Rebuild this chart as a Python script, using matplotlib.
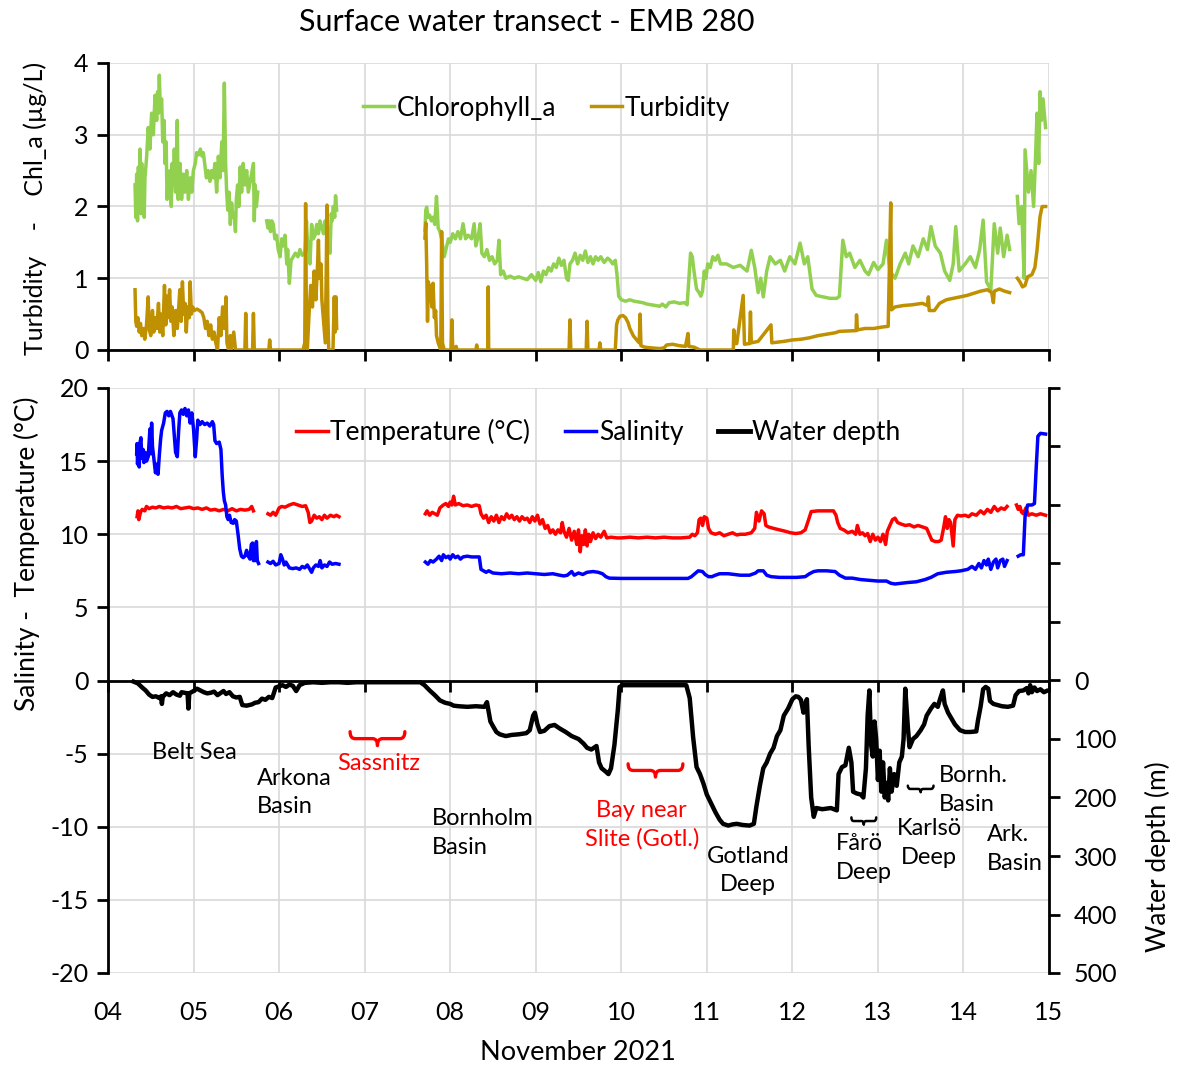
import numpy as np
import matplotlib
matplotlib.use("Agg")
import matplotlib.pyplot as plt
from matplotlib.path import Path
from matplotlib.patches import PathPatch
from matplotlib.lines import Line2D

plt.rcParams['font.family'] = ['Lato', 'DejaVu Sans']
plt.rcParams['axes.unicode_minus'] = False

nan = np.nan

# ---------------- data (day of November 2021) ----------------
days = list(range(4, 16))
day_labels = ["%02d" % d for d in days]

chl_day = [4.316, 4.325, 4.335, 4.345, 4.355, 4.365, 4.374, 4.384, 4.394, 4.404, 4.413, 4.423, 4.432,
           4.452, 4.47, 4.49, 4.51, 4.53, 4.55, 4.569, 4.58, 4.59, 4.60, 4.61, 4.627, 4.64, 4.655, 4.666,
           4.68, 4.69, 4.705, 4.715, 4.725, 4.74, 4.75, 4.764, 4.775, 4.79, 4.81, 4.82, 4.842, 4.86, 4.88,
           4.90, 4.92, 4.94, 4.96, 4.98, 4.998, 5.02, 5.036, 5.06, 5.08, 5.10, 5.114, 5.13, 5.15, 5.17,
           5.192, 5.21, 5.23, 5.25, 5.27, 5.29, 5.309, 5.33, 5.345, 5.36, 5.375, 5.387, 5.40, 5.415, 5.43,
           5.445, 5.46, 5.475, 5.49, 5.50, 5.515, 5.53, 5.545, 5.562, 5.58, 5.60, 5.621, 5.64, 5.70, 5.71,
           5.72, 5.735, 5.75, 5.80,
           5.855, 5.87, 5.885, 5.90, 5.915, 5.933, 5.95, 5.97, 5.99, 6.011, 6.03, 6.05, 6.069, 6.09, 6.10,
           6.12, 6.14, 6.166, 6.19, 6.22, 6.244, 6.27, 6.303, 6.32, 6.335, 6.35, 6.361, 6.38, 6.40, 6.42,
           6.44, 6.46, 6.478, 6.50, 6.52, 6.537, 6.56, 6.58, 6.595, 6.61, 6.62, 6.634, 6.65, 6.66, 6.673,
           7.2,
           7.705, 7.715, 7.725, 7.74, 7.76, 7.78, 7.80, 7.82, 7.84, 7.86, 7.88, 7.90, 7.93, 7.96, 7.98,
           8.00, 8.03, 8.06, 8.09, 8.12, 8.15, 8.18, 8.21, 8.25, 8.28, 8.30, 8.33, 8.35, 8.37, 8.40, 8.43,
           8.46, 8.49, 8.52, 8.55, 8.57, 8.59, 8.62, 8.65, 8.70, 8.75, 8.80, 8.85, 8.90, 8.95, 9.00, 9.03,
           9.06, 9.09, 9.12, 9.15, 9.18, 9.21, 9.24, 9.27, 9.30, 9.33, 9.36, 9.38, 9.40, 9.43, 9.46, 9.49,
           9.52, 9.55, 9.58, 9.61, 9.64, 9.67, 9.70, 9.73, 9.76, 9.80, 9.84, 9.87, 9.90, 9.93, 9.95, 9.97,
           10.00, 10.05, 10.10, 10.15, 10.20, 10.25, 10.30, 10.35, 10.40, 10.45, 10.48, 10.52, 10.56,
           10.62, 10.68, 10.74, 10.77, 10.79, 10.81, 10.83, 10.85, 10.88, 10.91, 10.93, 10.95, 10.97,
           10.99, 11.01, 11.04, 11.07, 11.10, 11.13, 11.16, 11.23, 11.31, 11.39, 11.47, 11.52, 11.56,
           11.60, 11.63, 11.66, 11.70, 11.74, 11.80, 11.86, 11.91, 11.97, 12.03, 12.09, 12.14, 12.18,
           12.23, 12.28, 12.36, 12.44, 12.52, 12.55, 12.59, 12.63, 12.67, 12.73, 12.79, 12.85, 12.89,
           12.95, 13.00, 13.06, 13.10, 13.14, 13.20, 13.26, 13.32, 13.36, 13.41, 13.47, 13.53, 13.58,
           13.62, 13.67, 13.73, 13.78, 13.84, 13.88, 13.91, 13.95, 14.02, 14.08, 14.14, 14.19, 14.23,
           14.27, 14.32, 14.36, 14.40, 14.43, 14.47, 14.51, 14.54, 14.58,
           14.63, 14.65, 14.68, 14.71, 14.72, 14.76, 14.79, 14.82, 14.84, 14.86, 14.88, 14.895, 14.91,
           14.93, 14.96]
chl_val = [2.3, 1.85, 2.45, 1.8, 2.55, 2.0, 2.8, 1.9, 2.6, 2.0, 2.2, 1.85, 2.4,
           2.7, 3.1, 2.8, 3.3, 3.0, 3.55, 3.2, 3.6, 3.3, 3.83, 3.4, 3.5, 2.9, 3.2, 2.6,
           2.9, 2.1, 2.4, 2.2, 2.5, 2.0, 2.6, 2.3, 2.8, 2.2, 3.2, 2.1, 2.6, 2.1, 2.45,
           2.2, 2.5, 2.1, 2.4, 2.2, 2.5, 2.6, 2.75, 2.72, 2.8, 2.7, 2.75, 2.6, 2.4, 2.5,
           2.35, 2.5, 2.4, 2.6, 2.2, 2.7, 2.4, 2.9, 2.5, 3.72, 2.6, 2.2, 1.95, 2.2, 1.75,
           2.05, 1.85, 1.9, 1.65, 2.1, 2.3, 2.0, 2.55, 2.2, 2.6, 2.3, 2.5, 2.2, 2.6, 1.8,
           2.3, 2.0, 2.2, nan,
           1.8, 1.7, 1.8, 1.65, 1.8, 1.75, 1.55, 1.6, 1.4, 1.3, 1.55, 1.45, 1.6, 1.2, 1.4,
           0.93, 1.25, 1.3, 1.35, 1.3, 1.4, 1.32, 1.35, 1.8, 1.4, 1.5, 1.2, 1.75, 1.55, 1.6,
           1.75, 1.62, 1.8, 1.7, 1.62, 1.8, 1.65, 1.7, 1.35, 1.9, 1.8, 2.0, 1.85, 2.15, 1.95,
           nan,
           1.67, 1.95, 1.99, 1.85, 1.88, 1.8, 1.85, 1.75, 2.14, 1.7, 1.65, 1.55, 1.3, 1.45, 1.55,
           1.5, 1.62, 1.55, 1.65, 1.55, 1.76, 1.55, 1.6, 1.55, 1.76, 1.45, 1.6, 1.76, 1.35, 1.3, 1.4,
           1.25, 1.3, 1.2, 1.25, 1.53, 1.05, 1.1, 1.0, 1.03, 1.0, 1.02, 1.0, 0.98, 1.05, 0.97, 1.08,
           0.95, 1.1, 1.05, 1.15, 1.1, 1.2, 1.15, 1.28, 1.18, 1.25, 1.0, 0.97, 1.2, 1.25, 1.35, 1.2,
           1.32, 1.25, 1.38, 1.22, 1.3, 1.2, 1.3, 1.25, 1.3, 1.22, 1.28, 1.25, 1.2, 1.25, 1.05, 0.75,
           0.70, 0.68, 0.70, 0.68, 0.67, 0.66, 0.64, 0.63, 0.62, 0.61, 0.64, 0.60, 0.66,
           0.67, 0.65, 0.66, 0.63, 1.0, 1.35, 1.3, 1.1, 0.85, 0.8, 0.75, 0.82, 1.1,
           1.0, 1.2, 1.15, 1.3, 1.25, 1.32, 1.2, 1.2, 1.15, 1.18, 1.1, 1.39, 1.15,
           0.8, 1.0, 0.74, 1.1, 1.3, 1.2, 1.25, 1.1, 1.3, 1.2, 1.49, 1.2, 1.3,
           0.85, 0.76, 0.74, 0.72, 0.72, 0.75, 1.53, 1.3, 1.35, 1.15, 1.25, 1.1, 1.05,
           1.22, 1.12, 1.2, 1.53, 1.1, 1.0, 1.2, 1.35, 1.2, 1.45, 1.3, 1.55, 1.4,
           1.72, 1.45, 1.35, 1.1, 0.97, 1.2, 1.72, 1.1, 1.2, 1.3, 1.15, 1.4, 1.81,
           0.95, 0.84, 1.76, 1.35, 1.7, 1.3, 1.6, 1.4, nan,
           2.14, 1.76, 2.0, 1.0, 2.79, 2.2, 2.5, 2.0, 2.6, 3.3, 2.6, 3.6, 3.2,
           3.5, 3.1]

turb_day = [4.316, 4.325, 4.335, 4.35, 4.365, 4.38, 4.394, 4.41, 4.43, 4.45, 4.47, 4.48, 4.50, 4.52,
            4.535, 4.55, 4.57, 4.59, 4.605, 4.62, 4.64, 4.66, 4.675, 4.69, 4.70, 4.72, 4.735, 4.75, 4.77,
            4.79, 4.81, 4.84, 4.855, 4.87, 4.885, 4.90, 4.915, 4.93, 4.95, 4.96, 4.975, 4.99, 5.01, 5.04,
            5.07, 5.10, 5.12, 5.14, 5.16, 5.18, 5.20, 5.22, 5.24, 5.26, 5.28, 5.30, 5.32, 5.34, 5.36,
            5.38, 5.39, 5.41, 5.43, 5.44, 5.47, 5.49, 5.60, 5.61, 5.62, 5.69, 5.70, 5.71, 5.88, 5.89,
            5.90, 6.28, 6.30, 6.31, 6.32, 6.33, 6.35, 6.37, 6.39, 6.41, 6.43, 6.45, 6.46, 6.47, 6.49,
            6.50, 6.52, 6.54, 6.55, 6.56, 6.57, 6.58, 6.63, 6.645, 6.655, 6.665, 6.673, 7.2,
            7.705, 7.715, 7.725, 7.735, 7.745, 7.755, 7.77, 7.785, 7.80, 7.815, 7.83, 7.84, 7.86, 7.875,
            7.89, 7.90, 7.91, 7.93, 8.01, 8.02, 8.03, 8.07, 8.08, 8.30, 8.31, 8.32, 8.44, 8.445, 8.45,
            9.39, 9.40, 9.41, 9.59, 9.60, 9.61, 9.74, 9.75, 9.76, 9.93, 9.945, 9.96, 9.985, 10.02, 10.05,
            10.08, 10.10, 10.14, 10.18, 10.21, 10.22, 10.23, 10.27, 10.35, 10.45, 10.50, 10.53, 10.60,
            10.68, 10.75, 10.78, 10.79, 10.85, 10.92, 11.31, 11.315, 11.33, 11.35, 11.425, 11.44, 11.50,
            11.51, 11.52, 11.60, 11.75, 11.76, 11.90, 12.00, 12.10, 12.20, 12.30, 12.40, 12.50, 12.55,
            12.745, 12.75, 12.76, 12.85, 12.95, 13.05, 13.12, 13.15, 13.16, 13.20, 13.30, 13.40, 13.52,
            13.58, 13.59, 13.60, 13.66, 13.72, 13.80, 13.88, 13.96, 14.04, 14.12, 14.20, 14.28, 14.33,
            14.35, 14.36, 14.42, 14.48, 14.54, 14.58,
            14.63, 14.66, 14.69, 14.72, 14.75, 14.80, 14.835, 14.86, 14.895, 14.92, 14.96]
turb_val = [0.84, 0.40, 0.33, 0.45, 0.25, 0.37, 0.2, 0.30, 0.15, 0.35, 0.74, 0.3, 0.2, 0.55,
            0.25, 0.45, 0.3, 0.65, 0.25, 0.5, 0.2, 0.9, 0.35, 0.75, 0.45, 0.84, 0.4, 0.6, 0.2,
            0.55, 0.3, 0.84, 0.4, 0.95, 0.5, 0.65, 0.25, 0.6, 0.45, 0.95, 0.5, 0.6, 0.55, 0.57,
            0.55, 0.52, 0.45, 0.3, 0.4, 0.2, 0.35, 0.15, 0.25, 0.1, 0.0, 0.45, 0.2, 0.6, 0.3,
            0.74, 0.1, 0.0, 0.2, 0.0, 0.25, 0.0, 0.0, 0.51, 0.0, 0.0, 0.51, 0.0, 0.0, 0.14,
            0.0, 0.0, 0.1, 2.04, 0.3, 0.0, 0.5, 0.9, 0.6, 1.1, 0.7, 1.2, 1.53, 1.0, 1.2,
            0.7, 0.4, 0.1, 1.0, 2.02, 0.5, 0.0, 0.0, 0.74, 0.25, 0.74, 0.3, nan,
            1.56, 1.77, 1.2, 0.4, 0.95, 0.7, 0.9, 0.6, 0.93, 0.45, 0.55, 0.2, 0.1, 0.05,
            0.0, 1.65, 0.1, 0.0, 0.0, 0.42, 0.0, 0.05, 0.0, 0.0, 0.07, 0.0, 0.0, 0.88, 0.0,
            0.0, 0.42, 0.0, 0.0, 0.40, 0.0, 0.0, 0.1, 0.0, 0.0, 0.35, 0.42, 0.47, 0.48, 0.45,
            0.38, 0.3, 0.2, 0.14, 0.1, 0.5, 0.06, 0.04, 0.03, 0.02, 0.03, 0.07, 0.08,
            0.06, 0.05, 0.23, 0.05, 0.04, 0.0, 0.0, 0.28, 0.09, 0.09, 0.76, 0.08, 0.09,
            0.53, 0.1, 0.12, 0.35, 0.1, 0.12, 0.14, 0.15, 0.17, 0.2, 0.22, 0.24, 0.26,
            0.27, 0.49, 0.28, 0.3, 0.3, 0.32, 0.33, 2.05, 0.56, 0.6, 0.62, 0.63, 0.65,
            0.62, 0.74, 0.55, 0.55, 0.65, 0.7, 0.72, 0.74, 0.76, 0.79, 0.82, 0.84, 0.8,
            0.66, 0.82, 0.85, 0.82, 0.8, nan,
            1.0, 0.95, 0.88, 0.9, 1.02, 1.05, 1.15, 1.39, 1.86, 2.0, 2.0]

temp_day = [4.34, 4.35, 4.36, 4.38, 4.40, 4.43, 4.45, 4.48, 4.52, 4.56, 4.60, 4.65, 4.70, 4.75, 4.80,
            4.85, 4.90, 4.95, 5.00, 5.05, 5.10, 5.15, 5.20, 5.25, 5.30, 5.35, 5.40, 5.45, 5.50, 5.55,
            5.60, 5.65, 5.68, 5.70, 5.78,
            5.87, 5.90, 5.93, 5.96, 6.00, 6.03, 6.07, 6.12, 6.17, 6.22, 6.27, 6.31, 6.34, 6.36, 6.38,
            6.41, 6.44, 6.47, 6.50, 6.53, 6.56, 6.60, 6.64, 6.67, 6.70, 7.2,
            7.71, 7.73, 7.76, 7.79, 7.82, 7.85, 7.88, 7.92, 7.95, 7.98, 8.00, 8.02, 8.04, 8.06, 8.10,
            8.15, 8.20, 8.25, 8.30, 8.34, 8.36, 8.39, 8.42, 8.45, 8.48, 8.51, 8.54, 8.57, 8.60, 8.63,
            8.66, 8.69, 8.72, 8.75, 8.78, 8.81, 8.84, 8.87, 8.90, 8.93, 8.96, 8.99, 9.02, 9.05, 9.08,
            9.11, 9.14, 9.17, 9.20, 9.23, 9.26, 9.29, 9.31, 9.33, 9.36, 9.39, 9.42, 9.45, 9.48, 9.50,
            9.52, 9.54, 9.56, 9.58, 9.60, 9.62, 9.64, 9.67, 9.70, 9.73, 9.76, 9.80, 9.83, 9.88, 9.95,
            10.0, 10.1, 10.2, 10.3, 10.4, 10.5, 10.6, 10.7, 10.80, 10.83, 10.86, 10.89, 10.91, 10.93,
            10.95, 10.97, 11.00, 11.02, 11.05, 11.10, 11.15, 11.20, 11.25, 11.30, 11.35, 11.39, 11.45,
            11.52, 11.56, 11.58, 11.61, 11.64, 11.67, 11.69, 11.72, 11.78, 11.85, 11.92, 11.98, 12.04,
            12.10, 12.15, 12.19, 12.22, 12.30, 12.40, 12.48, 12.51, 12.53, 12.56, 12.60, 12.65, 12.70,
            12.74, 12.76, 12.79, 12.82, 12.85, 12.88, 12.91, 12.94, 12.97, 13.00, 13.03, 13.06, 13.09,
            13.11, 13.14, 13.17, 13.20, 13.23, 13.27, 13.32, 13.37, 13.42, 13.47, 13.52, 13.57, 13.60,
            13.63, 13.67, 13.71, 13.74, 13.77, 13.79, 13.81, 13.83, 13.85, 13.88, 13.90, 13.93, 13.97,
            14.02, 14.06, 14.10, 14.15, 14.20, 14.24, 14.28, 14.32, 14.36, 14.40, 14.44, 14.48, 14.51,
            14.56, 14.62, 14.64, 14.66, 14.68, 14.70, 14.73, 14.76, 14.80, 14.85, 14.90, 14.96]
temp_val = [11.2, 11.6, 11.0, 11.5, 11.7, 11.6, 11.9, 11.75, 11.85, 11.8, 11.9, 11.8, 11.85, 11.8, 11.9,
            11.75, 11.8, 11.85, 11.75, 11.8, 11.7, 11.8, 11.65, 11.7, 11.6, 11.7, 11.6, 11.75, 11.6, 11.7,
            11.65, 11.7, 11.9, 11.6, nan,
            11.4, 11.3, 11.5, 11.3, 11.8, 11.9, 11.85, 12.0, 12.1, 12.0, 11.9, 11.95, 11.5, 10.8, 10.9,
            11.3, 11.1, 11.2, 11.0, 11.3, 11.1, 11.3, 11.2, 11.3, 11.2, nan,
            11.4, 11.6, 11.3, 11.5, 11.4, 11.3, 11.8, 12.0, 12.1, 11.9, 12.2, 12.0, 12.6, 12.0, 12.1,
            11.95, 12.0, 11.9, 12.0, 11.95, 11.4, 11.1, 11.3, 10.8, 11.2, 10.9, 11.3, 10.8, 11.2, 11.0,
            11.4, 11.1, 11.3, 11.0, 11.2, 10.9, 11.2, 11.0, 11.1, 10.8, 11.2, 10.9, 11.3, 10.7, 11.0,
            10.4, 10.6, 10.1, 10.3, 10.0, 10.3, 10.1, 10.8, 10.2, 9.8, 10.4, 9.6, 10.2, 9.3, 10.3,
            8.8, 9.9, 9.3, 10.3, 9.2, 10.0, 9.5, 10.1, 9.7, 10.0, 9.8, 10.2, 9.75, 9.8, 9.75,
            9.75, 9.8, 9.75, 9.8, 9.75, 9.8, 9.75, 9.75, 9.8, 10.0, 9.9, 10.1, 11.0, 11.1,
            10.6, 11.2, 11.1, 10.4, 10.1, 10.0, 10.1, 9.9, 10.0, 10.1, 9.95, 10.0, 10.0,
            10.1, 10.4, 11.5, 10.9, 11.6, 11.4, 10.6, 10.5, 10.4, 10.3, 10.2, 10.1, 10.05,
            10.1, 10.3, 11.0, 11.55, 11.6, 11.6, 11.6, 11.3, 10.8, 10.4, 10.3, 10.1, 10.2,
            10.0, 10.6, 10.0, 10.1, 9.9, 10.05, 9.5, 10.0, 9.6, 9.8, 9.5, 10.0, 9.3,
            10.2, 10.6, 11.0, 11.1, 10.8, 10.7, 10.6, 10.65, 10.5, 10.6, 10.5, 10.4, 10.0,
            9.6, 9.5, 9.5, 9.6, 10.5, 11.2, 10.4, 11.0, 10.8, 9.2, 11.0, 11.3, 11.25,
            11.3, 11.2, 11.4, 11.3, 11.6, 11.4, 11.7, 11.5, 11.9, 11.6, 11.8, 11.7, 11.9,
            nan, 12.0, 11.7, 11.9, 11.5, 11.4, 11.8, 11.3, 11.4, 11.3, 11.4, 11.3]

sal_day = [4.335, 4.34, 4.345, 4.355, 4.365, 4.375, 4.385, 4.395, 4.41, 4.42, 4.435, 4.45, 4.47, 4.49,
           4.50, 4.51, 4.52, 4.54, 4.555, 4.57, 4.585, 4.60, 4.615, 4.627, 4.65, 4.67, 4.69, 4.71, 4.73,
           4.76, 4.79, 4.81, 4.825, 4.84, 4.86, 4.88, 4.90, 4.92, 4.94, 4.96, 4.98, 5.00, 5.02, 5.036,
           5.05, 5.075, 5.10, 5.13, 5.16, 5.19, 5.22, 5.235, 5.25, 5.27, 5.30, 5.32, 5.335, 5.348, 5.36,
           5.375, 5.39, 5.405, 5.42, 5.44, 5.465, 5.48, 5.50, 5.52, 5.54, 5.56, 5.58, 5.60, 5.62, 5.64,
           5.66, 5.675, 5.69, 5.70, 5.72, 5.735, 5.745, 5.76, 5.80,
           5.87, 5.90, 5.93, 5.96, 6.00, 6.02, 6.04, 6.06, 6.08, 6.12, 6.16, 6.20, 6.24, 6.27, 6.30,
           6.33, 6.36, 6.38, 6.40, 6.43, 6.46, 6.48, 6.50, 6.53, 6.56, 6.59, 6.62, 6.66, 6.70, 7.2,
           7.71, 7.74, 7.77, 7.80, 7.84, 7.87, 7.90, 7.92, 7.95, 7.98, 8.00, 8.03, 8.06, 8.09, 8.12,
           8.15, 8.20, 8.25, 8.34, 8.36, 8.39, 8.42, 8.45, 8.50, 8.60, 8.70, 8.80, 8.90, 9.00, 9.10,
           9.20, 9.28, 9.33, 9.37, 9.42, 9.45, 9.50, 9.55, 9.60, 9.67, 9.73, 9.78, 9.82, 9.86, 10.0,
           10.2, 10.4, 10.6, 10.78, 10.82, 10.86, 10.90, 10.95, 10.98, 11.02, 11.06, 11.10, 11.15,
           11.25, 11.39, 11.50, 11.57, 11.60, 11.66, 11.70, 11.75, 11.85, 11.95, 12.05, 12.15, 12.20,
           12.25, 12.30, 12.40, 12.50, 12.55, 12.62, 12.70, 12.80, 12.90, 13.00, 13.10, 13.15, 13.20,
           13.27, 13.35, 13.45, 13.55, 13.62, 13.70, 13.80, 13.90, 13.97, 14.05, 14.10, 14.14, 14.18,
           14.21, 14.24, 14.27, 14.29, 14.32, 14.35, 14.38, 14.40, 14.43, 14.46, 14.48, 14.51, 14.56,
           14.64, 14.67, 14.70, 14.72, 14.75, 14.80, 14.83, 14.85, 14.87, 14.90, 14.96]
sal_val = [15.5, 16.2, 14.8, 15.7, 14.6, 16.3, 16.6, 15.2, 15.8, 14.9, 15.6, 15.0, 15.3, 17.2,
           15.5, 17.6, 16.0, 15.0, 14.2, 14.8, 14.1, 15.4, 16.5, 17.1, 17.6, 18.3, 18.4, 18.1, 18.4,
           17.9, 15.6, 15.3, 17.0, 18.3, 18.5, 18.2, 18.6, 18.1, 18.5, 17.6, 18.3, 17.2, 15.3, 16.5,
           17.8, 17.5, 17.7, 17.5, 17.6, 17.4, 17.7, 17.5, 16.4, 16.2, 16.3, 15.8, 14.0, 12.9, 12.3,
           12.0, 11.2, 11.0, 11.3, 10.8, 10.75, 11.0, 10.9, 10.0, 9.0, 8.5, 8.4, 8.5, 8.9, 8.5,
           8.3, 9.3, 9.4, 8.2, 8.2, 9.5, 8.2, 8.0, nan,
           8.1, 8.0, 8.15, 7.9, 8.0, 8.6, 8.3, 7.9, 8.1, 7.7, 7.65, 7.7, 7.6, 7.8, 7.7,
           7.9, 7.6, 7.4, 7.7, 7.9, 7.8, 8.2, 7.7, 7.9, 7.8, 8.1, 7.95, 8.0, 7.95, nan,
           8.1, 7.95, 8.2, 8.1, 8.3, 8.5, 8.2, 8.6, 8.4, 8.5, 8.3, 8.6, 8.4, 8.5, 8.3,
           8.45, 8.5, 8.45, 8.45, 7.6, 7.5, 7.4, 7.5, 7.35, 7.3, 7.35, 7.3, 7.35, 7.3, 7.25,
           7.3, 7.2, 7.15, 7.2, 7.45, 7.2, 7.35, 7.25, 7.4, 7.45, 7.4, 7.3, 7.1, 7.0, 6.98,
           6.98, 6.98, 6.98, 6.98, 7.1, 7.3, 7.5, 7.45, 7.25, 7.1, 7.1, 7.2, 7.3,
           7.3, 7.2, 7.2, 7.35, 7.5, 7.5, 7.2, 7.1, 7.05, 7.05, 7.05, 7.1, 7.3,
           7.45, 7.5, 7.5, 7.45, 7.2, 7.0, 7.0, 6.9, 6.85, 6.8, 6.8, 6.65, 6.6,
           6.65, 6.7, 6.75, 6.9, 7.05, 7.3, 7.4, 7.45, 7.5, 7.6, 7.8, 7.6, 8.0,
           7.7, 8.2, 7.9, 8.3, 7.6, 8.1, 8.3, 7.7, 8.2, 8.3, 7.8, 8.2, nan,
           8.5, 8.6, 8.6, 11.2, 12.0, 12.0, 12.1, 14.5, 16.7, 16.9, 16.85]

depth_day = [4.30, 4.35, 4.40, 4.44, 4.48, 4.52, 4.56, 4.60, 4.62, 4.63, 4.64, 4.68, 4.72, 4.76, 4.80,
             4.84, 4.86, 4.93, 4.94, 4.95, 5.00, 5.04, 5.08, 5.12, 5.16, 5.20, 5.24, 5.28, 5.31, 5.35,
             5.38, 5.42, 5.46, 5.50, 5.54, 5.57, 5.62, 5.68, 5.72, 5.76, 5.80, 5.84, 5.88, 5.92, 5.96,
             6.00, 6.04, 6.08, 6.12, 6.16, 6.20, 6.24, 6.30, 6.40, 6.50, 6.60, 6.70, 6.80, 6.90, 7.00,
             7.10, 7.20, 7.30, 7.50, 7.65, 7.70, 7.76, 7.82, 7.88, 7.94, 8.00, 8.04, 8.10, 8.20, 8.30,
             8.40, 8.43, 8.47, 8.50, 8.54, 8.58, 8.65, 8.72, 8.80, 8.89, 8.93, 8.97, 8.99, 9.02, 9.05,
             9.10, 9.16, 9.22, 9.28, 9.35, 9.42, 9.50, 9.56, 9.60, 9.65, 9.71, 9.74, 9.77, 9.82, 9.85,
             9.88, 9.92, 9.96, 9.98, 10.02, 10.2, 10.4, 10.6, 10.76, 10.80, 10.84, 10.88, 10.92, 10.96,
             11.00, 11.05, 11.10, 11.15, 11.19, 11.25, 11.30, 11.35, 11.42, 11.50, 11.55, 11.58, 11.62,
             11.66, 11.70, 11.74, 11.78, 11.82, 11.86, 11.90, 11.95, 12.00, 12.04, 12.07, 12.10, 12.13,
             12.15, 12.17, 12.19, 12.22, 12.25, 12.28, 12.35, 12.45, 12.52, 12.54, 12.58, 12.62, 12.66,
             12.69, 12.71, 12.75, 12.80, 12.83, 12.86, 12.88, 12.90, 12.92, 12.94, 12.96, 12.98, 13.00,
             13.02, 13.04, 13.06, 13.08, 13.10, 13.12, 13.14, 13.16, 13.19, 13.22, 13.25, 13.28, 13.30,
             13.32, 13.35, 13.37, 13.41, 13.45, 13.50, 13.54, 13.57, 13.62, 13.66, 13.70, 13.73, 13.76,
             13.78, 13.82, 13.86, 13.90, 13.96, 14.02, 14.08, 14.15, 14.17, 14.20, 14.23, 14.26, 14.29,
             14.31, 14.35, 14.40, 14.45, 14.52, 14.58, 14.61, 14.65, 14.70, 14.74, 14.76, 14.78, 14.80,
             14.83, 14.86, 14.90, 14.94, 14.97]
depth_m = [2, 5, 12, 17, 24, 28, 27, 30, 27, 40, 28, 22, 25, 20, 24,
           26, 20, 22, 48, 22, 18, 14, 17, 20, 22, 21, 19, 25, 22, 18,
           23, 20, 27, 29, 28, 42, 43, 41, 38, 37, 31, 33, 28, 30, 12,
           10, 8, 11, 7, 9, 18, 8, 4, 3, 4, 3, 3, 4, 3, 3,
           3, 3, 3, 3, 3, 8, 17, 25, 34, 38, 40, 43, 44, 45, 44,
           45, 37, 70, 78, 88, 92, 95, 93, 92, 90, 85, 60, 55, 75, 88,
           86, 78, 76, 82, 88, 95, 100, 108, 115, 118, 112, 140, 150, 156, 160,
           150, 110, 50, 11, 8, 8, 8, 8, 8, 30, 97, 148, 160, 176,
           195, 210, 225, 238, 245, 248, 246, 245, 247, 248, 245, 215, 180,
           150, 140, 125, 115, 95, 85, 60, 48, 32, 27, 28, 33, 55,
           40, 32, 110, 200, 233, 218, 220, 218, 222, 160, 148, 145, 115,
           140, 190, 193, 195, 200, 150, 60, 17, 110, 130, 70, 100, 170,
           120, 190, 140, 200, 175, 205, 150, 190, 160, 180, 140, 130, 100,
           14, 80, 114, 100, 95, 85, 75, 60, 48, 40, 45, 30, 17,
           40, 55, 65, 75, 85, 88, 88, 87, 68, 45, 15, 11, 14,
           35, 40, 42, 44, 45, 43, 25, 18, 17, 13, 22, 8, 20,
           12, 18, 15, 20, 18]

# ---------------- colours ----------------
c_chl = "#92D050"
c_turb = "#BF9000"
c_temp = "#FF0000"
c_sal = "#0000FF"
grid_c = "#D9D9D9"


def brace(ax, x0, x1, y, h, color, lw):
    # horizontal curly brace, tip pointing down
    xm = (x0 + x1) / 2
    a = (x1 - x0) * 0.09
    ym = y - h / 2
    verts = [(x0, y), (x0, ym), (x0 + a, ym), (xm - a, ym), (xm, ym), (xm, y - h),
             (xm, ym), (xm + a, ym), (x1 - a, ym), (x1, ym), (x1, y)]
    codes = [Path.MOVETO, Path.CURVE3, Path.CURVE3, Path.LINETO, Path.CURVE3, Path.CURVE3,
             Path.CURVE3, Path.CURVE3, Path.LINETO, Path.CURVE3, Path.CURVE3]
    ax.add_patch(PathPatch(Path(verts, codes), fill=False, edgecolor=color, lw=lw,
                           capstyle='round', joinstyle='round', zorder=5))


fig = plt.figure(figsize=(11.77, 10.66), dpi=100)
L, R = 108 / 1177, 1049 / 1177
ax1 = fig.add_axes([L, 1 - 350 / 1066, R - L, 287 / 1066])
ax2 = fig.add_axes([L, 1 - 973 / 1066, R - L, 585 / 1066])

FS = 18
LW = 2.5

# ---------------- top panel ----------------
ax1.plot(chl_day, chl_val, color=c_chl, lw=LW, label="Chlorophyll_a", zorder=3)
ax1.plot(turb_day, turb_val, color=c_turb, lw=LW, label="Turbidity", zorder=3)
ax1.set_xlim(4, 15)
ax1.set_ylim(0, 4)
ax1.set_xticks(days)
ax1.set_yticks([0, 1, 2, 3, 4])
ax1.tick_params(axis='x', labelbottom=False, direction='out', length=8, width=2)
ax1.tick_params(axis='y', direction='out', length=8, width=2, labelsize=FS, pad=6)
ax1.grid(True, color=grid_c, lw=1.2, zorder=0)
ax1.set_axisbelow(True)
for s in ['top', 'right']:
    ax1.spines[s].set_visible(False)
for s in ['left', 'bottom']:
    ax1.spines[s].set_linewidth(2)
ax1.legend(loc='center', bbox_to_anchor=(0.466, 0.843), ncol=2, frameon=False, fontsize=19,
           handlelength=1.2, handletextpad=0.1, columnspacing=1.3)

# ---------------- bottom panel ----------------
ax2.plot(temp_day, temp_val, color=c_temp, lw=LW, zorder=3)
ax2.plot(sal_day, sal_val, color=c_sal, lw=LW, zorder=3)
ax2.set_xlim(4, 15)
ax2.set_ylim(-20, 20)
ax2.set_xticks(days)
ax2.set_xticklabels(day_labels)
ax2.set_yticks(range(-20, 21, 5))
ax2.tick_params(axis='x', length=0, labelsize=FS, pad=20)
ax2.tick_params(axis='y', direction='out', length=8, width=2, labelsize=FS, pad=6)
ax2.grid(True, color=grid_c, lw=1.2, zorder=0)
ax2.set_axisbelow(True)
for s in ['top', 'right', 'bottom']:
    ax2.spines[s].set_visible(False)
ax2.spines['left'].set_linewidth(2)

# x axis line at zero with downward ticks
ax2.axhline(0, color='black', lw=2, zorder=2)
ax2.plot(days, np.zeros(len(days)), ls='none', marker=3, ms=8, mew=2, color='black',
         clip_on=False, zorder=2)

ax3 = ax2.twinx()
ax3.plot(depth_day, depth_m, color='black', lw=3.2, zorder=4)
ax3.set_ylim(500, -500)
ax3.set_yticks(range(-500, 501, 100))
ax3.set_yticklabels(['' if v < 0 else str(v) for v in range(-500, 501, 100)])
ax3.tick_params(axis='y', direction='out', length=8, width=2, labelsize=FS, pad=10)
for s in ['top', 'left', 'bottom']:
    ax3.spines[s].set_visible(False)
ax3.spines['right'].set_linewidth(2)

handles = [Line2D([], [], color=c_temp, lw=LW), Line2D([], [], color=c_sal, lw=LW),
           Line2D([], [], color='black', lw=3.5)]
ax2.legend(handles, ["Temperature (°C)", "Salinity", "Water depth"], loc='center',
           bbox_to_anchor=(0.521, 0.925), ncol=3, frameon=False, fontsize=19,
           handlelength=1.2, handletextpad=0.1, columnspacing=1.3)

# ---------------- region labels ----------------
AF = 17
LS = 1.45
ax2.text(5.005, -4.93, "Belt Sea", fontsize=AF, ha='center', va='center')
ax2.text(5.74, -7.67, "Arkona\nBasin", fontsize=AF, ha='left', va='center', linespacing=LS)
ax2.text(7.16, -5.68, "Sassnitz", fontsize=AF, ha='center', va='center', color='red')
ax2.text(7.79, -10.41, "Bornholm\nBasin", fontsize=AF, ha='left', va='center', linespacing=LS)
ax2.text(10.24, -9.86, "Bay near\nSlite (Gotl.)", fontsize=AF, ha='center', va='center',
         color='red', linespacing=LS)
ax2.text(11.48, -13.0, "Gotland\nDeep", fontsize=AF, ha='center', va='center', linespacing=LS)
ax2.text(12.51, -12.12, "Fårö\nDeep", fontsize=AF, ha='left', va='center', linespacing=LS)
ax2.text(13.60, -11.1, "Karlsö\nDeep", fontsize=AF, ha='center', va='center', linespacing=LS)
ax2.text(13.71, -7.47, "Bornh.\nBasin", fontsize=AF, ha='left', va='center', linespacing=LS)
ax2.text(14.27, -11.5, "Ark.\nBasin", fontsize=AF, ha='left', va='center', linespacing=LS)

brace(ax2, 6.83, 7.47, -3.5, 0.95, 'red', 2.4)
brace(ax2, 10.08, 10.72, -5.7, 0.9, 'red', 2.4)
brace(ax2, 12.69, 12.98, -9.36, 0.5, 'black', 1.8)
brace(ax2, 13.35, 13.65, -7.19, 0.45, 'black', 1.8)

# ---------------- titles and axis labels ----------------
fig.text(527 / 1177, 1 - 22 / 1066, "Surface water transect - EMB 280", fontsize=22,
         ha='center', va='center')
fig.text(35 / 1177, 1 - 208 / 1066, "Turbidity    -    Chl_a (µg/L)", fontsize=FS,
         rotation=90, ha='center', va='center')
fig.text(27 / 1177, 1 - 554 / 1066, "Salinity -  Temperature (°C)", fontsize=19,
         rotation=90, ha='center', va='center')
fig.text(1158 / 1177, 1 - 857 / 1066, "Water depth (m)", fontsize=19,
         rotation=90, ha='center', va='center')
fig.text(578 / 1177, 1 - 1052 / 1066, "November 2021", fontsize=19.5, ha='center', va='center')

fig.savefig("out.png", dpi=100)
